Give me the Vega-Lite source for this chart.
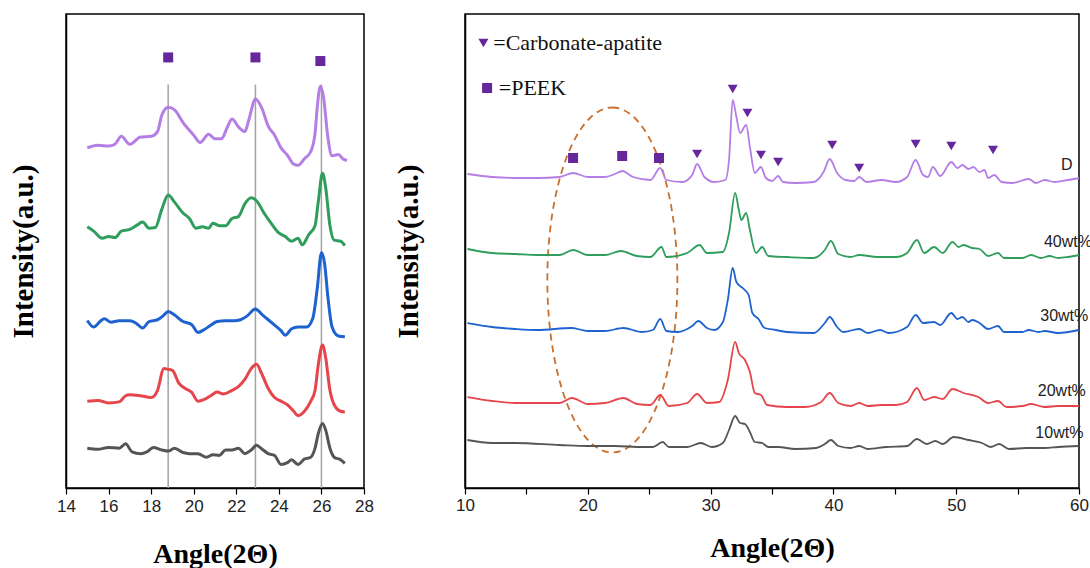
{
  "$schema": "https://vega.github.io/schema/vega-lite/v6.json",
  "background": "white",
  "padding": {"left": 8, "top": 13, "right": 0, "bottom": 0},
  "spacing": 18,
  "config": {
    "view": {"stroke": "#000", "strokeWidth": 1.5},
    "axis": {"domainColor": "#000", "domainWidth": 1.5, "tickColor": "#000", "tickWidth": 1.2, "grid": false, "labelColor": "#222", "titleColor": "#000", "titleFont": "Liberation Serif", "titleFontWeight": "bold", "titleFontSize": 28, "labelFont": "Liberation Sans", "labelFontSize": 17, "labelFlush": false, "labelOverlap": false},
    "axisY": {"titleFontSize": 29}
  },
  "datasets": {
    "leftCurves": [
      {"sample":"D","angle":15.0,"intensity":940},{"sample":"D","angle":15.5,"intensity":947},{"sample":"D","angle":16.0,"intensity":945},{"sample":"D","angle":16.3,"intensity":950},{"sample":"D","angle":16.6,"intensity":972},{"sample":"D","angle":17.0,"intensity":950},{"sample":"D","angle":17.5,"intensity":970},{"sample":"D","angle":18.0,"intensity":972},{"sample":"D","angle":18.3,"intensity":985},{"sample":"D","angle":18.5,"intensity":1030},{"sample":"D","angle":18.8,"intensity":1052},{"sample":"D","angle":19.1,"intensity":1045},{"sample":"D","angle":19.5,"intensity":1010},{"sample":"D","angle":20.0,"intensity":975},{"sample":"D","angle":20.3,"intensity":955},{"sample":"D","angle":20.7,"intensity":978},{"sample":"D","angle":21.0,"intensity":965},{"sample":"D","angle":21.3,"intensity":965},{"sample":"D","angle":21.6,"intensity":1000},{"sample":"D","angle":21.8,"intensity":1020},{"sample":"D","angle":22.1,"intensity":998},{"sample":"D","angle":22.4,"intensity":985},{"sample":"D","angle":22.6,"intensity":1020},{"sample":"D","angle":22.9,"intensity":1075},{"sample":"D","angle":23.2,"intensity":1050},{"sample":"D","angle":23.5,"intensity":1000},{"sample":"D","angle":23.8,"intensity":975},{"sample":"D","angle":24.1,"intensity":940},{"sample":"D","angle":24.4,"intensity":920},{"sample":"D","angle":24.7,"intensity":895},{"sample":"D","angle":24.9,"intensity":892},{"sample":"D","angle":25.2,"intensity":910},{"sample":"D","angle":25.5,"intensity":930},{"sample":"D","angle":25.7,"intensity":980},{"sample":"D","angle":25.8,"intensity":1050},{"sample":"D","angle":25.95,"intensity":1110},{"sample":"D","angle":26.1,"intensity":1080},{"sample":"D","angle":26.3,"intensity":970},{"sample":"D","angle":26.5,"intensity":918},{"sample":"D","angle":26.8,"intensity":922},{"sample":"D","angle":27.0,"intensity":910},{"sample":"D","angle":27.2,"intensity":905},
      {"sample":"40wt%","angle":15.0,"intensity":722},{"sample":"40wt%","angle":15.3,"intensity":710},{"sample":"40wt%","angle":15.7,"intensity":690},{"sample":"40wt%","angle":16.0,"intensity":695},{"sample":"40wt%","angle":16.3,"intensity":692},{"sample":"40wt%","angle":16.6,"intensity":710},{"sample":"40wt%","angle":17.0,"intensity":715},{"sample":"40wt%","angle":17.3,"intensity":725},{"sample":"40wt%","angle":17.6,"intensity":735},{"sample":"40wt%","angle":17.9,"intensity":718},{"sample":"40wt%","angle":18.2,"intensity":720},{"sample":"40wt%","angle":18.5,"intensity":770},{"sample":"40wt%","angle":18.8,"intensity":810},{"sample":"40wt%","angle":19.1,"intensity":790},{"sample":"40wt%","angle":19.5,"intensity":760},{"sample":"40wt%","angle":19.8,"intensity":745},{"sample":"40wt%","angle":20.1,"intensity":718},{"sample":"40wt%","angle":20.4,"intensity":722},{"sample":"40wt%","angle":20.7,"intensity":718},{"sample":"40wt%","angle":20.9,"intensity":732},{"sample":"40wt%","angle":21.2,"intensity":725},{"sample":"40wt%","angle":21.5,"intensity":725},{"sample":"40wt%","angle":21.8,"intensity":745},{"sample":"40wt%","angle":22.1,"intensity":750},{"sample":"40wt%","angle":22.4,"intensity":785},{"sample":"40wt%","angle":22.7,"intensity":802},{"sample":"40wt%","angle":23.0,"intensity":790},{"sample":"40wt%","angle":23.3,"intensity":760},{"sample":"40wt%","angle":23.6,"intensity":735},{"sample":"40wt%","angle":24.0,"intensity":705},{"sample":"40wt%","angle":24.3,"intensity":695},{"sample":"40wt%","angle":24.6,"intensity":682},{"sample":"40wt%","angle":24.9,"intensity":690},{"sample":"40wt%","angle":25.1,"intensity":672},{"sample":"40wt%","angle":25.4,"intensity":700},{"sample":"40wt%","angle":25.7,"intensity":725},{"sample":"40wt%","angle":25.85,"intensity":790},{"sample":"40wt%","angle":26.05,"intensity":870},{"sample":"40wt%","angle":26.2,"intensity":830},{"sample":"40wt%","angle":26.4,"intensity":725},{"sample":"40wt%","angle":26.6,"intensity":685},{"sample":"40wt%","angle":26.9,"intensity":682},{"sample":"40wt%","angle":27.1,"intensity":670},
      {"sample":"30wt%","angle":15.0,"intensity":463},{"sample":"30wt%","angle":15.3,"intensity":445},{"sample":"30wt%","angle":15.6,"intensity":460},{"sample":"30wt%","angle":15.8,"intensity":468},{"sample":"30wt%","angle":16.1,"intensity":458},{"sample":"30wt%","angle":16.5,"intensity":462},{"sample":"30wt%","angle":17.0,"intensity":462},{"sample":"30wt%","angle":17.3,"intensity":455},{"sample":"30wt%","angle":17.6,"intensity":442},{"sample":"30wt%","angle":17.9,"intensity":460},{"sample":"30wt%","angle":18.3,"intensity":465},{"sample":"30wt%","angle":18.6,"intensity":478},{"sample":"30wt%","angle":18.8,"intensity":488},{"sample":"30wt%","angle":19.1,"intensity":478},{"sample":"30wt%","angle":19.5,"intensity":460},{"sample":"30wt%","angle":19.9,"intensity":452},{"sample":"30wt%","angle":20.2,"intensity":430},{"sample":"30wt%","angle":20.5,"intensity":438},{"sample":"30wt%","angle":20.8,"intensity":450},{"sample":"30wt%","angle":21.1,"intensity":460},{"sample":"30wt%","angle":21.5,"intensity":462},{"sample":"30wt%","angle":21.9,"intensity":462},{"sample":"30wt%","angle":22.2,"intensity":465},{"sample":"30wt%","angle":22.5,"intensity":475},{"sample":"30wt%","angle":22.9,"intensity":495},{"sample":"30wt%","angle":23.2,"intensity":480},{"sample":"30wt%","angle":23.5,"intensity":465},{"sample":"30wt%","angle":23.8,"intensity":450},{"sample":"30wt%","angle":24.1,"intensity":435},{"sample":"30wt%","angle":24.3,"intensity":422},{"sample":"30wt%","angle":24.6,"intensity":440},{"sample":"30wt%","angle":24.9,"intensity":445},{"sample":"30wt%","angle":25.3,"intensity":445},{"sample":"30wt%","angle":25.6,"intensity":470},{"sample":"30wt%","angle":25.8,"intensity":550},{"sample":"30wt%","angle":26.0,"intensity":650},{"sample":"30wt%","angle":26.15,"intensity":620},{"sample":"30wt%","angle":26.3,"intensity":530},{"sample":"30wt%","angle":26.5,"intensity":445},{"sample":"30wt%","angle":26.8,"intensity":420},{"sample":"30wt%","angle":27.1,"intensity":418},
      {"sample":"20wt%","angle":15.0,"intensity":240},{"sample":"20wt%","angle":15.5,"intensity":242},{"sample":"20wt%","angle":16.0,"intensity":235},{"sample":"20wt%","angle":16.5,"intensity":238},{"sample":"20wt%","angle":16.8,"intensity":255},{"sample":"20wt%","angle":17.0,"intensity":258},{"sample":"20wt%","angle":17.5,"intensity":255},{"sample":"20wt%","angle":18.0,"intensity":250},{"sample":"20wt%","angle":18.3,"intensity":270},{"sample":"20wt%","angle":18.6,"intensity":330},{"sample":"20wt%","angle":18.8,"intensity":328},{"sample":"20wt%","angle":19.0,"intensity":325},{"sample":"20wt%","angle":19.3,"intensity":290},{"sample":"20wt%","angle":19.6,"intensity":275},{"sample":"20wt%","angle":19.9,"intensity":265},{"sample":"20wt%","angle":20.2,"intensity":240},{"sample":"20wt%","angle":20.5,"intensity":245},{"sample":"20wt%","angle":20.8,"intensity":255},{"sample":"20wt%","angle":21.1,"intensity":265},{"sample":"20wt%","angle":21.4,"intensity":260},{"sample":"20wt%","angle":21.8,"intensity":270},{"sample":"20wt%","angle":22.1,"intensity":280},{"sample":"20wt%","angle":22.4,"intensity":300},{"sample":"20wt%","angle":22.7,"intensity":330},{"sample":"20wt%","angle":22.95,"intensity":342},{"sample":"20wt%","angle":23.2,"intensity":315},{"sample":"20wt%","angle":23.5,"intensity":275},{"sample":"20wt%","angle":23.8,"intensity":250},{"sample":"20wt%","angle":24.1,"intensity":240},{"sample":"20wt%","angle":24.4,"intensity":230},{"sample":"20wt%","angle":24.7,"intensity":212},{"sample":"20wt%","angle":24.9,"intensity":200},{"sample":"20wt%","angle":25.2,"intensity":212},{"sample":"20wt%","angle":25.5,"intensity":240},{"sample":"20wt%","angle":25.7,"intensity":270},{"sample":"20wt%","angle":25.85,"intensity":340},{"sample":"20wt%","angle":26.05,"intensity":395},{"sample":"20wt%","angle":26.2,"intensity":360},{"sample":"20wt%","angle":26.4,"intensity":270},{"sample":"20wt%","angle":26.6,"intensity":230},{"sample":"20wt%","angle":26.9,"intensity":212},{"sample":"20wt%","angle":27.1,"intensity":210},
      {"sample":"10wt%","angle":15.0,"intensity":110},{"sample":"10wt%","angle":15.5,"intensity":107},{"sample":"10wt%","angle":16.0,"intensity":112},{"sample":"10wt%","angle":16.5,"intensity":110},{"sample":"10wt%","angle":16.8,"intensity":122},{"sample":"10wt%","angle":17.1,"intensity":100},{"sample":"10wt%","angle":17.5,"intensity":95},{"sample":"10wt%","angle":17.8,"intensity":100},{"sample":"10wt%","angle":18.1,"intensity":112},{"sample":"10wt%","angle":18.5,"intensity":105},{"sample":"10wt%","angle":18.8,"intensity":102},{"sample":"10wt%","angle":19.1,"intensity":110},{"sample":"10wt%","angle":19.5,"intensity":98},{"sample":"10wt%","angle":19.8,"intensity":95},{"sample":"10wt%","angle":20.2,"intensity":95},{"sample":"10wt%","angle":20.6,"intensity":85},{"sample":"10wt%","angle":20.9,"intensity":92},{"sample":"10wt%","angle":21.2,"intensity":90},{"sample":"10wt%","angle":21.5,"intensity":105},{"sample":"10wt%","angle":21.8,"intensity":105},{"sample":"10wt%","angle":22.1,"intensity":110},{"sample":"10wt%","angle":22.4,"intensity":95},{"sample":"10wt%","angle":22.7,"intensity":105},{"sample":"10wt%","angle":22.95,"intensity":118},{"sample":"10wt%","angle":23.2,"intensity":108},{"sample":"10wt%","angle":23.5,"intensity":95},{"sample":"10wt%","angle":23.8,"intensity":90},{"sample":"10wt%","angle":24.1,"intensity":65},{"sample":"10wt%","angle":24.4,"intensity":70},{"sample":"10wt%","angle":24.6,"intensity":78},{"sample":"10wt%","angle":24.9,"intensity":65},{"sample":"10wt%","angle":25.2,"intensity":80},{"sample":"10wt%","angle":25.5,"intensity":85},{"sample":"10wt%","angle":25.7,"intensity":110},{"sample":"10wt%","angle":25.85,"intensity":150},{"sample":"10wt%","angle":26.05,"intensity":178},{"sample":"10wt%","angle":26.2,"intensity":160},{"sample":"10wt%","angle":26.4,"intensity":110},{"sample":"10wt%","angle":26.6,"intensity":85},{"sample":"10wt%","angle":26.9,"intensity":78},{"sample":"10wt%","angle":27.1,"intensity":68}
    ],
    "leftRules": [{"angle":18.8,"top":1115},{"angle":22.9,"top":1115},{"angle":26.0,"top":1115}],
    "leftMarkers": [{"angle":18.8,"intensity":1190},{"angle":22.9,"intensity":1190},{"angle":25.95,"intensity":1180}],
    "rightCurves": [
      {"sample":"D","angle":10.2,"intensity":314},{"sample":"D","angle":12.2,"intensity":311},{"sample":"D","angle":14.1,"intensity":310},{"sample":"D","angle":15.9,"intensity":310},{"sample":"D","angle":17.7,"intensity":311},{"sample":"D","angle":18.8,"intensity":315},{"sample":"D","angle":20.0,"intensity":311},{"sample":"D","angle":21.4,"intensity":311},{"sample":"D","angle":22.2,"intensity":314},{"sample":"D","angle":22.8,"intensity":317},{"sample":"D","angle":23.7,"intensity":311},{"sample":"D","angle":25.1,"intensity":308},{"sample":"D","angle":25.9,"intensity":320},{"sample":"D","angle":26.4,"intensity":308},{"sample":"D","angle":27.7,"intensity":306},{"sample":"D","angle":28.5,"intensity":313},{"sample":"D","angle":28.9,"intensity":324},{"sample":"D","angle":29.5,"intensity":311},{"sample":"D","angle":30.3,"intensity":306},{"sample":"D","angle":31.2,"intensity":308},{"sample":"D","angle":31.5,"intensity":328},{"sample":"D","angle":31.8,"intensity":388},{"sample":"D","angle":32.1,"intensity":371},{"sample":"D","angle":32.4,"intensity":355},{"sample":"D","angle":32.9,"intensity":363},{"sample":"D","angle":33.2,"intensity":341},{"sample":"D","angle":33.6,"intensity":315},{"sample":"D","angle":34.1,"intensity":321},{"sample":"D","angle":34.5,"intensity":310},{"sample":"D","angle":35.0,"intensity":307},{"sample":"D","angle":35.5,"intensity":312},{"sample":"D","angle":35.9,"intensity":306},{"sample":"D","angle":36.9,"intensity":305},{"sample":"D","angle":38.4,"intensity":306},{"sample":"D","angle":39.2,"intensity":316},{"sample":"D","angle":39.7,"intensity":329},{"sample":"D","angle":40.3,"intensity":315},{"sample":"D","angle":41.0,"intensity":308},{"sample":"D","angle":41.7,"intensity":307},{"sample":"D","angle":42.1,"intensity":311},{"sample":"D","angle":42.7,"intensity":306},{"sample":"D","angle":43.9,"intensity":308},{"sample":"D","angle":45.1,"intensity":306},{"sample":"D","angle":46.0,"intensity":311},{"sample":"D","angle":46.7,"intensity":328},{"sample":"D","angle":47.3,"intensity":313},{"sample":"D","angle":47.7,"intensity":311},{"sample":"D","angle":48.1,"intensity":321},{"sample":"D","angle":48.7,"intensity":312},{"sample":"D","angle":49.6,"intensity":326},{"sample":"D","angle":50.1,"intensity":320},{"sample":"D","angle":50.5,"intensity":323},{"sample":"D","angle":51.0,"intensity":319},{"sample":"D","angle":51.4,"intensity":321},{"sample":"D","angle":51.9,"intensity":316},{"sample":"D","angle":52.3,"intensity":318},{"sample":"D","angle":52.6,"intensity":310},{"sample":"D","angle":53.1,"intensity":313},{"sample":"D","angle":53.7,"intensity":306},{"sample":"D","angle":54.6,"intensity":305},{"sample":"D","angle":55.9,"intensity":309},{"sample":"D","angle":56.5,"intensity":305},{"sample":"D","angle":57.2,"intensity":308},{"sample":"D","angle":58.0,"intensity":306},{"sample":"D","angle":59.1,"intensity":308},{"sample":"D","angle":60.0,"intensity":310},
      {"sample":"40wt%","angle":10.2,"intensity":239},{"sample":"40wt%","angle":12.2,"intensity":235},{"sample":"40wt%","angle":14.1,"intensity":234},{"sample":"40wt%","angle":15.9,"intensity":233},{"sample":"40wt%","angle":17.7,"intensity":233},{"sample":"40wt%","angle":18.8,"intensity":238},{"sample":"40wt%","angle":20.0,"intensity":233},{"sample":"40wt%","angle":21.4,"intensity":233},{"sample":"40wt%","angle":22.7,"intensity":237},{"sample":"40wt%","angle":24.0,"intensity":232},{"sample":"40wt%","angle":25.1,"intensity":231},{"sample":"40wt%","angle":26.0,"intensity":241},{"sample":"40wt%","angle":26.4,"intensity":231},{"sample":"40wt%","angle":28.1,"intensity":235},{"sample":"40wt%","angle":29.1,"intensity":243},{"sample":"40wt%","angle":29.7,"intensity":235},{"sample":"40wt%","angle":31.0,"intensity":236},{"sample":"40wt%","angle":31.5,"intensity":255},{"sample":"40wt%","angle":32.0,"intensity":295},{"sample":"40wt%","angle":32.3,"intensity":278},{"sample":"40wt%","angle":32.5,"intensity":268},{"sample":"40wt%","angle":32.9,"intensity":275},{"sample":"40wt%","angle":33.2,"intensity":258},{"sample":"40wt%","angle":33.7,"intensity":235},{"sample":"40wt%","angle":34.2,"intensity":241},{"sample":"40wt%","angle":34.7,"intensity":232},{"sample":"40wt%","angle":36.2,"intensity":231},{"sample":"40wt%","angle":38.4,"intensity":230},{"sample":"40wt%","angle":39.3,"intensity":238},{"sample":"40wt%","angle":39.8,"intensity":247},{"sample":"40wt%","angle":40.4,"intensity":234},{"sample":"40wt%","angle":41.4,"intensity":231},{"sample":"40wt%","angle":42.1,"intensity":233},{"sample":"40wt%","angle":43.6,"intensity":231},{"sample":"40wt%","angle":45.1,"intensity":231},{"sample":"40wt%","angle":46.0,"intensity":235},{"sample":"40wt%","angle":46.8,"intensity":248},{"sample":"40wt%","angle":47.4,"intensity":235},{"sample":"40wt%","angle":48.2,"intensity":241},{"sample":"40wt%","angle":48.9,"intensity":235},{"sample":"40wt%","angle":49.7,"intensity":246},{"sample":"40wt%","angle":50.2,"intensity":241},{"sample":"40wt%","angle":50.6,"intensity":243},{"sample":"40wt%","angle":51.3,"intensity":240},{"sample":"40wt%","angle":51.9,"intensity":239},{"sample":"40wt%","angle":52.6,"intensity":232},{"sample":"40wt%","angle":53.4,"intensity":235},{"sample":"40wt%","angle":53.9,"intensity":230},{"sample":"40wt%","angle":55.4,"intensity":230},{"sample":"40wt%","angle":56.1,"intensity":233},{"sample":"40wt%","angle":56.9,"intensity":230},{"sample":"40wt%","angle":57.6,"intensity":232},{"sample":"40wt%","angle":58.3,"intensity":230},{"sample":"40wt%","angle":59.1,"intensity":231},{"sample":"40wt%","angle":60.0,"intensity":233},
      {"sample":"30wt%","angle":10.2,"intensity":165},{"sample":"30wt%","angle":12.2,"intensity":161},{"sample":"30wt%","angle":14.1,"intensity":159},{"sample":"30wt%","angle":15.9,"intensity":158},{"sample":"30wt%","angle":18.7,"intensity":160},{"sample":"30wt%","angle":20.0,"intensity":157},{"sample":"30wt%","angle":21.4,"intensity":157},{"sample":"30wt%","angle":22.9,"intensity":160},{"sample":"30wt%","angle":24.4,"intensity":156},{"sample":"30wt%","angle":25.3,"intensity":158},{"sample":"30wt%","angle":25.9,"intensity":169},{"sample":"30wt%","angle":26.4,"intensity":157},{"sample":"30wt%","angle":27.3,"intensity":156},{"sample":"30wt%","angle":28.5,"intensity":162},{"sample":"30wt%","angle":29.0,"intensity":167},{"sample":"30wt%","angle":29.7,"intensity":160},{"sample":"30wt%","angle":30.3,"intensity":158},{"sample":"30wt%","angle":31.0,"intensity":166},{"sample":"30wt%","angle":31.4,"intensity":188},{"sample":"30wt%","angle":31.8,"intensity":220},{"sample":"30wt%","angle":32.1,"intensity":206},{"sample":"30wt%","angle":32.7,"intensity":199},{"sample":"30wt%","angle":33.1,"intensity":193},{"sample":"30wt%","angle":33.4,"intensity":175},{"sample":"30wt%","angle":33.9,"intensity":169},{"sample":"30wt%","angle":34.4,"intensity":160},{"sample":"30wt%","angle":35.3,"intensity":158},{"sample":"30wt%","angle":36.2,"intensity":156},{"sample":"30wt%","angle":38.4,"intensity":155},{"sample":"30wt%","angle":39.3,"intensity":165},{"sample":"30wt%","angle":39.7,"intensity":171},{"sample":"30wt%","angle":40.3,"intensity":161},{"sample":"30wt%","angle":40.8,"intensity":156},{"sample":"30wt%","angle":42.1,"intensity":159},{"sample":"30wt%","angle":42.8,"intensity":155},{"sample":"30wt%","angle":43.8,"intensity":158},{"sample":"30wt%","angle":44.5,"intensity":155},{"sample":"30wt%","angle":46.0,"intensity":161},{"sample":"30wt%","angle":46.7,"intensity":173},{"sample":"30wt%","angle":47.3,"intensity":165},{"sample":"30wt%","angle":48.2,"intensity":166},{"sample":"30wt%","angle":48.7,"intensity":163},{"sample":"30wt%","angle":49.6,"intensity":175},{"sample":"30wt%","angle":50.1,"intensity":169},{"sample":"30wt%","angle":50.5,"intensity":171},{"sample":"30wt%","angle":51.0,"intensity":166},{"sample":"30wt%","angle":51.3,"intensity":168},{"sample":"30wt%","angle":51.9,"intensity":165},{"sample":"30wt%","angle":52.6,"intensity":159},{"sample":"30wt%","angle":53.4,"intensity":162},{"sample":"30wt%","angle":53.9,"intensity":156},{"sample":"30wt%","angle":55.4,"intensity":156},{"sample":"30wt%","angle":55.9,"intensity":158},{"sample":"30wt%","angle":56.7,"intensity":156},{"sample":"30wt%","angle":57.2,"intensity":157},{"sample":"30wt%","angle":58.3,"intensity":155},{"sample":"30wt%","angle":60.0,"intensity":158},
      {"sample":"20wt%","angle":10.2,"intensity":91},{"sample":"20wt%","angle":12.2,"intensity":87},{"sample":"20wt%","angle":14.1,"intensity":85},{"sample":"20wt%","angle":15.9,"intensity":85},{"sample":"20wt%","angle":17.7,"intensity":85},{"sample":"20wt%","angle":18.7,"intensity":90},{"sample":"20wt%","angle":20.0,"intensity":84},{"sample":"20wt%","angle":21.4,"intensity":85},{"sample":"20wt%","angle":22.9,"intensity":90},{"sample":"20wt%","angle":24.0,"intensity":84},{"sample":"20wt%","angle":25.1,"intensity":83},{"sample":"20wt%","angle":25.9,"intensity":93},{"sample":"20wt%","angle":26.6,"intensity":82},{"sample":"20wt%","angle":28.1,"intensity":85},{"sample":"20wt%","angle":28.9,"intensity":94},{"sample":"20wt%","angle":29.7,"intensity":85},{"sample":"20wt%","angle":30.7,"intensity":86},{"sample":"20wt%","angle":31.4,"intensity":108},{"sample":"20wt%","angle":32.0,"intensity":146},{"sample":"20wt%","angle":32.3,"intensity":135},{"sample":"20wt%","angle":32.8,"intensity":128},{"sample":"20wt%","angle":33.2,"intensity":116},{"sample":"20wt%","angle":33.6,"intensity":95},{"sample":"20wt%","angle":34.1,"intensity":93},{"sample":"20wt%","angle":34.6,"intensity":83},{"sample":"20wt%","angle":36.2,"intensity":81},{"sample":"20wt%","angle":37.7,"intensity":81},{"sample":"20wt%","angle":39.0,"intensity":86},{"sample":"20wt%","angle":39.7,"intensity":95},{"sample":"20wt%","angle":40.4,"intensity":85},{"sample":"20wt%","angle":41.4,"intensity":82},{"sample":"20wt%","angle":42.1,"intensity":85},{"sample":"20wt%","angle":42.8,"intensity":82},{"sample":"20wt%","angle":43.9,"intensity":83},{"sample":"20wt%","angle":45.1,"intensity":83},{"sample":"20wt%","angle":46.0,"intensity":86},{"sample":"20wt%","angle":46.8,"intensity":100},{"sample":"20wt%","angle":47.4,"intensity":88},{"sample":"20wt%","angle":48.2,"intensity":91},{"sample":"20wt%","angle":48.9,"intensity":89},{"sample":"20wt%","angle":49.7,"intensity":99},{"sample":"20wt%","angle":50.6,"intensity":95},{"sample":"20wt%","angle":51.8,"intensity":91},{"sample":"20wt%","angle":52.6,"intensity":85},{"sample":"20wt%","angle":53.4,"intensity":87},{"sample":"20wt%","angle":54.1,"intensity":81},{"sample":"20wt%","angle":55.4,"intensity":82},{"sample":"20wt%","angle":56.1,"intensity":84},{"sample":"20wt%","angle":57.2,"intensity":81},{"sample":"20wt%","angle":58.3,"intensity":82},{"sample":"20wt%","angle":60.0,"intensity":82},
      {"sample":"10wt%","angle":10.2,"intensity":48},{"sample":"10wt%","angle":12.2,"intensity":45},{"sample":"10wt%","angle":14.1,"intensity":45},{"sample":"10wt%","angle":17.7,"intensity":43},{"sample":"10wt%","angle":20.0,"intensity":42},{"sample":"10wt%","angle":22.2,"intensity":42},{"sample":"10wt%","angle":24.4,"intensity":41},{"sample":"10wt%","angle":25.3,"intensity":41},{"sample":"10wt%","angle":26.1,"intensity":46},{"sample":"10wt%","angle":26.6,"intensity":41},{"sample":"10wt%","angle":28.1,"intensity":41},{"sample":"10wt%","angle":29.2,"intensity":45},{"sample":"10wt%","angle":30.1,"intensity":41},{"sample":"10wt%","angle":31.0,"intensity":45},{"sample":"10wt%","angle":31.5,"intensity":58},{"sample":"10wt%","angle":32.0,"intensity":72},{"sample":"10wt%","angle":32.4,"intensity":65},{"sample":"10wt%","angle":32.8,"intensity":64},{"sample":"10wt%","angle":33.2,"intensity":56},{"sample":"10wt%","angle":33.6,"intensity":46},{"sample":"10wt%","angle":34.2,"intensity":45},{"sample":"10wt%","angle":34.7,"intensity":41},{"sample":"10wt%","angle":35.5,"intensity":41},{"sample":"10wt%","angle":36.9,"intensity":39},{"sample":"10wt%","angle":38.6,"intensity":40},{"sample":"10wt%","angle":39.3,"intensity":44},{"sample":"10wt%","angle":39.8,"intensity":48},{"sample":"10wt%","angle":40.4,"intensity":42},{"sample":"10wt%","angle":41.4,"intensity":40},{"sample":"10wt%","angle":42.1,"intensity":42},{"sample":"10wt%","angle":42.8,"intensity":39},{"sample":"10wt%","angle":44.3,"intensity":41},{"sample":"10wt%","angle":46.0,"intensity":42},{"sample":"10wt%","angle":46.8,"intensity":49},{"sample":"10wt%","angle":47.6,"intensity":44},{"sample":"10wt%","angle":48.3,"intensity":47},{"sample":"10wt%","angle":48.9,"intensity":44},{"sample":"10wt%","angle":49.8,"intensity":51},{"sample":"10wt%","angle":51.0,"intensity":48},{"sample":"10wt%","angle":52.1,"intensity":45},{"sample":"10wt%","angle":52.8,"intensity":41},{"sample":"10wt%","angle":53.5,"intensity":44},{"sample":"10wt%","angle":54.3,"intensity":39},{"sample":"10wt%","angle":55.7,"intensity":40},{"sample":"10wt%","angle":57.2,"intensity":40},{"sample":"10wt%","angle":58.3,"intensity":41},{"sample":"10wt%","angle":60.0,"intensity":42}
    ],
    "rightMarkers": [
      {"phase":"PEEK","angle":18.8,"intensity":330},{"phase":"PEEK","angle":22.8,"intensity":332},{"phase":"PEEK","angle":25.8,"intensity":330},
      {"phase":"Carbonate-apatite","angle":28.9,"intensity":334},{"phase":"Carbonate-apatite","angle":31.8,"intensity":399},{"phase":"Carbonate-apatite","angle":33.0,"intensity":375},{"phase":"Carbonate-apatite","angle":34.1,"intensity":333},{"phase":"Carbonate-apatite","angle":35.5,"intensity":326},{"phase":"Carbonate-apatite","angle":39.9,"intensity":343},{"phase":"Carbonate-apatite","angle":42.1,"intensity":320},{"phase":"Carbonate-apatite","angle":46.7,"intensity":344},{"phase":"Carbonate-apatite","angle":49.6,"intensity":342},{"phase":"Carbonate-apatite","angle":53.0,"intensity":338},
      {"phase":"Carbonate-apatite","angle":11.5,"intensity":445},{"phase":"PEEK","angle":11.8,"intensity":400}
    ],
    "legendText": [{"label":"=Carbonate-apatite","angle":12.3,"intensity":445},{"label":"=PEEK","angle":12.75,"intensity":400}],
    "sampleLabels": [{"sample":"D","angle":59.0,"intensity":323},{"sample":"40wt%","angle":59.1,"intensity":246},{"sample":"30wt%","angle":58.8,"intensity":172},{"sample":"20wt%","angle":58.6,"intensity":97},{"sample":"10wt%","angle":58.4,"intensity":55}],
    "region": [{"angle":22.0,"intensity":208}]
  },
  "hconcat": [
    {
      "width": 298,
      "height": 474,
      "layer": [
        {
          "data": {"name": "leftRules"},
          "mark": {"type": "rule", "color": "#a3a3a3", "strokeWidth": 1.5},
          "encoding": {
            "x": {"field": "angle", "type": "quantitative", "scale": {"domain": [14, 28], "nice": false}, "axis": {"title": "Angle(2Θ)", "values": [14,15,16,17,18,19,20,21,22,23,24,25,26,27,28], "labelExpr": "datum.value % 2 === 0 ? datum.label : ''", "tickSize": 6, "labelPadding": 4, "titlePadding": 26}},
            "y": {"field": "top", "type": "quantitative", "scale": {"domain": [0, 1310], "nice": false}, "axis": {"title": "Intensity(a.u.)", "labels": false, "ticks": false, "titlePadding": 28}},
            "y2": {"datum": 0}
          }
        },
        {
          "data": {"name": "leftCurves"},
          "mark": {"type": "line", "strokeWidth": 3, "interpolate": "monotone"},
          "encoding": {
            "x": {"field": "angle", "type": "quantitative"},
            "y": {"field": "intensity", "type": "quantitative"},
            "color": {"field": "sample", "type": "nominal", "scale": {"domain": ["D","40wt%","30wt%","20wt%","10wt%"], "range": ["#b47ee5","#2f9d5b","#1e62d0","#e5454b","#555555"]}, "legend": null}
          }
        },
        {
          "data": {"name": "leftMarkers"},
          "mark": {"type": "point", "shape": "square", "filled": true, "color": "#66279c", "size": 100, "opacity": 1},
          "encoding": {
            "x": {"field": "angle", "type": "quantitative"},
            "y": {"field": "intensity", "type": "quantitative"}
          }
        }
      ]
    },
    {
      "width": 614,
      "height": 474,
      "layer": [
        {
          "data": {"name": "region"},
          "mark": {"type": "point", "shape": "M 0,-1 C 0.2082,-1 0.377,-0.5523 0.377,0 C 0.377,0.5523 0.2082,1 0,1 C -0.2082,1 -0.377,0.5523 -0.377,0 C -0.377,-0.5523 -0.2082,-1 0,-1 Z", "size": 119025, "filled": false, "stroke": "#c8702e", "strokeWidth": 1.8, "strokeDash": [7, 5], "opacity": 1},
          "encoding": {
            "x": {"field": "angle", "type": "quantitative", "scale": {"domain": [10, 60], "nice": false}, "axis": {"title": "Angle(2Θ)", "values": [10,15,20,25,30,35,40,45,50,55,60], "labelExpr": "datum.value % 10 === 0 ? datum.label : ''", "tickSize": 6, "labelPadding": 3, "titlePadding": 21}},
            "y": {"field": "intensity", "type": "quantitative", "scale": {"domain": [0, 474], "nice": false}, "axis": {"title": "Intensity(a.u.)", "labels": false, "ticks": false, "titlePadding": 42}}
          }
        },
        {
          "data": {"name": "rightCurves"},
          "mark": {"type": "line", "strokeWidth": 1.8, "interpolate": "monotone"},
          "encoding": {
            "x": {"field": "angle", "type": "quantitative"},
            "y": {"field": "intensity", "type": "quantitative"},
            "color": {"field": "sample", "type": "nominal", "scale": {"domain": ["D","40wt%","30wt%","20wt%","10wt%"], "range": ["#b47ee5","#2f9d5b","#1e62d0","#e5454b","#555555"]}, "legend": null}
          }
        },
        {
          "data": {"name": "rightMarkers"},
          "mark": {"type": "point", "filled": true, "color": "#66279c", "size": 100, "opacity": 1},
          "encoding": {
            "x": {"field": "angle", "type": "quantitative"},
            "y": {"field": "intensity", "type": "quantitative"},
            "shape": {"field": "phase", "type": "nominal", "scale": {"domain": ["Carbonate-apatite","PEEK"], "range": ["triangle-down","square"]}, "legend": null}
          }
        },
        {
          "data": {"name": "legendText"},
          "mark": {"type": "text", "align": "left", "baseline": "middle", "font": "Liberation Serif", "fontSize": 22, "color": "#111"},
          "encoding": {
            "x": {"field": "angle", "type": "quantitative"},
            "y": {"field": "intensity", "type": "quantitative"},
            "text": {"field": "label"}
          }
        },
        {
          "data": {"name": "sampleLabels"},
          "mark": {"type": "text", "align": "center", "baseline": "middle", "font": "Liberation Sans", "fontSize": 16, "color": "#222"},
          "encoding": {
            "x": {"field": "angle", "type": "quantitative"},
            "y": {"field": "intensity", "type": "quantitative"},
            "text": {"field": "sample"}
          }
        }
      ]
    }
  ]
}
